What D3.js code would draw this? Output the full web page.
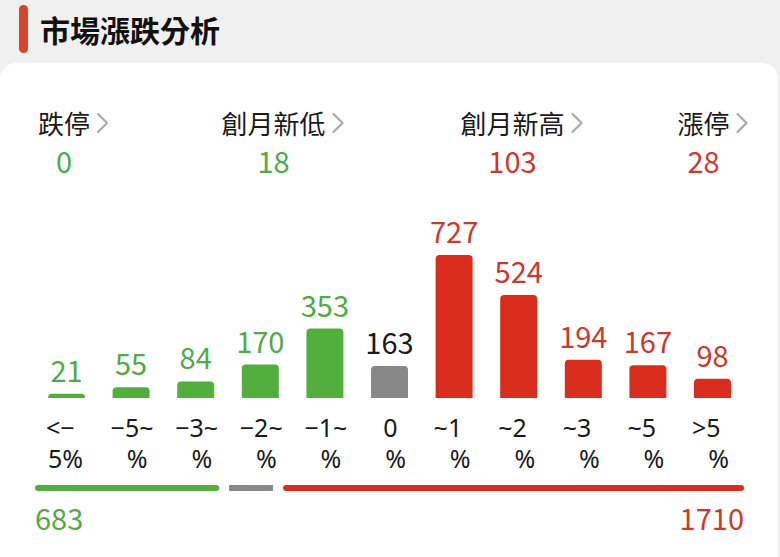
<!DOCTYPE html>
<html>
<head>
<meta charset="utf-8">
<script src="https://cdn.jsdelivr.net/npm/d3@7/dist/d3.min.js"></script>
<style>
  html, body { margin: 0; padding: 0; background: #f0f0f0; }
  svg { display: block; font-family: "Noto Sans CJK TC", "Noto Sans", sans-serif; }
  .mk-cat { font-family: "Noto Sans", "Noto Sans CJK TC", sans-serif; }
</style>
</head>
<body>
<svg class="mk-chart" width="780" height="557"></svg>
<script>
// chart data
const categories = ['<-5%', '-5~-3%', '-3~-2%', '-2~-1%', '-1~0%', '0%', '0~1%', '1~2%', '2~3%', '3~5%', '>5%'];
const labelTop = ['<−', '−5~', '−3~', '−2~', '−1~', '0', '~1', '~2', '~3', '~5', '>5'];
const labelBottom = ['5%', '%', '%', '%', '%', '%', '%', '%', '%', '%', '%'];
const counts = [21, 55, 84, 170, 353, 163, 727, 524, 194, 167, 98];
const groups = ['down', 'down', 'down', 'down', 'down', 'flat', 'up', 'up', 'up', 'up', 'up'];

const statLabels = ['跌停', '創月新低', '創月新高', '漲停'];
const statValues = [0, 18, 103, 28];
const statGroups = ['down', 'down', 'up', 'up'];

const title = '市場漲跌分析';

// colours
const barColor = {down: '#52ae3d', flat: '#888888', up: '#d92e1e'};
const textColor = {down: '#4fab46', flat: '#1a1a1a', up: '#c93a2c'};

let svg = d3.select('.mk-chart');

// header
svg.append('rect')
  .attr('x', 19).attr('y', 5).attr('width', 9).attr('height', 48)
  .attr('rx', 4.5).attr('fill', '#d9432f');
svg.append('text')
  .attr('x', 40).attr('y', 42)
  .attr('font-size', 30).attr('font-weight', 700).attr('fill', '#111')
  .text(title);

// white card
svg.append('rect')
  .attr('x', 0).attr('y', 63).attr('width', 778).attr('height', 530)
  .attr('rx', 16).attr('fill', '#ffffff');

// top stats row
let statX = [64, 273.5, 512.5, 703.5];
let stats = svg.append('g').attr('class', 'mk-stats');
statLabels.forEach(function (lab, i) {
  let t = stats.append('text')
    .attr('x', statX[i]).attr('y', 134)
    .attr('text-anchor', 'middle')
    .attr('font-size', 26).attr('fill', '#1a1a1a')
    .text(lab);
  let w = t.node().getComputedTextLength();
  let cx = statX[i] + w / 2 + 8;
  stats.append('path')
    .attr('d', 'M' + cx + ',114 L' + (cx + 9) + ',123 L' + cx + ',132')
    .attr('fill', 'none').attr('stroke', '#aaaaaa').attr('stroke-width', 2.2)
    .attr('stroke-linecap', 'round').attr('stroke-linejoin', 'round');
  stats.append('text')
    .attr('x', statX[i]).attr('y', 173)
    .attr('text-anchor', 'middle')
    .attr('font-size', 29).attr('fill', textColor[statGroups[i]])
    .text(statValues[i]);
});

// bars
let x = d3.scalePoint().domain(categories).range([66.5, 712.5]);
let y = d3.scaleLinear().domain([0, d3.max(counts)]).range([398, 255]);
let bw = 37;
let r = 4;

let bars = svg.append('g').attr('class', 'mk-bars');
bars.selectAll('path')
  .data(categories)
  .enter().append('path')
  .attr('fill', (d, i) => barColor[groups[i]])
  .attr('d', function (d, i) {
    let x0 = x(d) - bw / 2, x1 = x(d) + bw / 2;
    let y0 = y(0), y1 = y(counts[i]);
    let rr = Math.min(r, (y0 - y1));
    return 'M' + x0 + ',' + y0 + ' L' + x0 + ',' + (y1 + rr) +
      ' Q' + x0 + ',' + y1 + ' ' + (x0 + rr) + ',' + y1 +
      ' L' + (x1 - rr) + ',' + y1 +
      ' Q' + x1 + ',' + y1 + ' ' + x1 + ',' + (y1 + rr) +
      ' L' + x1 + ',' + y0 + ' Z';
  });

bars.selectAll('text.mk-val')
  .data(categories)
  .enter().append('text')
  .attr('class', 'mk-val')
  .attr('x', d => x(d))
  .attr('y', (d, i) => y(counts[i]) - 12)
  .attr('text-anchor', 'middle')
  .attr('font-size', 29)
  .attr('fill', (d, i) => textColor[groups[i]])
  .text((d, i) => counts[i]);

// category labels, two lines: first line starts at the bar's left edge,
// second line ends at its right edge (single glyphs are centred)
bars.selectAll('text.mk-cat1')
  .data(categories)
  .enter().append('text')
  .attr('class', 'mk-cat mk-cat1')
  .attr('x', (d, i) => labelTop[i].length > 1 ? x(d) - bw / 2 - 2 : x(d) + 1)
  .attr('text-anchor', (d, i) => labelTop[i].length > 1 ? 'start' : 'middle')
  .attr('y', 437)
  .attr('font-size', 25).attr('fill', '#1a1a1a')
  .text((d, i) => labelTop[i]);

bars.selectAll('text.mk-cat2')
  .data(categories)
  .enter().append('text')
  .attr('class', 'mk-cat mk-cat2')
  .attr('x', d => x(d) + bw / 2 - 2)
  .attr('y', 468)
  .attr('text-anchor', 'end')
  .attr('font-size', 25).attr('fill', '#1a1a1a')
  .text((d, i) => labelBottom[i]);

// bottom breadth bar
let totals = ['down', 'flat', 'up'].map(g => d3.sum(counts.filter((c, i) => groups[i] === g)));
let gap = 10, left = 35, right = 744;
let wScale = d3.scaleLinear().domain([0, d3.sum(totals)]).range([0, right - left - gap * 2]);
let segX = left;
let seg = svg.append('g').attr('class', 'mk-breadth');
['down', 'flat', 'up'].forEach(function (g, i) {
  let w = wScale(totals[i]);
  seg.append('rect')
    .attr('x', segX).attr('y', 485).attr('width', w).attr('height', 6)
    .attr('rx', g === 'flat' ? 0 : 3)
    .attr('fill', barColor[g]);
  segX += w + gap;
});
seg.append('text')
  .attr('x', left).attr('y', 530)
  .attr('font-size', 29).attr('fill', textColor.down)
  .text(totals[0]);
seg.append('text')
  .attr('x', right).attr('y', 530)
  .attr('text-anchor', 'end')
  .attr('font-size', 29).attr('fill', textColor.up)
  .text(totals[2]);
</script>
</body>
</html>
